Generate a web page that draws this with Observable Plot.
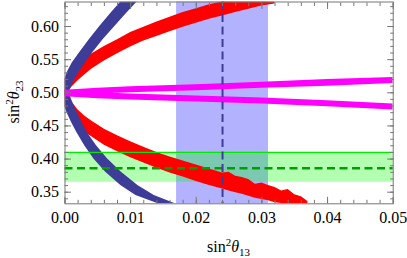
<!DOCTYPE html>
<html><head><meta charset="utf-8">
<script src="https://cdn.jsdelivr.net/npm/d3@7"></script>
<script src="https://cdn.jsdelivr.net/npm/@observablehq/plot@0.6"></script>
<style>
body{margin:0;background:#fff}
#chart svg text, #chart svg tspan { font-family: "Liberation Serif", "Times New Roman", Times, serif !important; }
#chart svg g[aria-label="x-axis tick label"] text,
#chart svg g[aria-label="y-axis tick label"] text { font-size: 16px !important; fill: #000 !important; }
</style>
</head><body><div id="chart"></div>
<script>
// tick labels
const xTicks = [0, 0.01, 0.02, 0.03, 0.04, 0.05];
const yTicks = [0.35, 0.40, 0.45, 0.50, 0.55, 0.60];

// bands (sin^2 theta13 band, sin^2 theta23 band)
const s13Band = {lo: 0.017, mid: 0.024, hi: 0.031};
const s23Band = {lo: 0.365, mid: 0.386, hi: 0.410};

// blue curve, upper branch: sin2t23 -> sin2t13 range
const blueUpY  = [0.500, 0.510, 0.520, 0.530, 0.545, 0.560, 0.580, 0.600, 0.620, 0.637];
const blueUpX1 = [0.0000, 0.0000, 0.0000, 0.0003, 0.0011, 0.0022, 0.0037, 0.0053, 0.0070, 0.0085];
const blueUpX2 = [0.0006, 0.0010, 0.0015, 0.0021, 0.0031, 0.0042, 0.0058, 0.0076, 0.0094, 0.0110];

// blue curve, lower branch
const blueLoY  = [0.500, 0.490, 0.480, 0.470, 0.455, 0.440, 0.420, 0.400, 0.380, 0.360, 0.345, 0.3325];
const blueLoX1 = [0.0000, 0.0000, 0.0000, 0.0003, 0.0010, 0.0018, 0.0030, 0.0044, 0.0062, 0.0085, 0.0108, 0.0142];
const blueLoX2 = [0.0006, 0.0010, 0.0014, 0.0019, 0.0026, 0.0034, 0.0048, 0.0065, 0.0086, 0.0111, 0.0136, 0.0168];

// red points, upper branch: sin2t13 -> sin2t23 range
const redUpX  = [0, 0.0005, 0.001, 0.002, 0.003, 0.004, 0.006, 0.008, 0.010, 0.012, 0.014, 0.016, 0.018, 0.020, 0.022, 0.024, 0.026, 0.028, 0.030, 0.032];
const redUpY1 = [0.495, 0.500, 0.508, 0.518, 0.527, 0.535, 0.548, 0.559, 0.569, 0.578, 0.585, 0.592, 0.599, 0.605, 0.611, 0.616, 0.621, 0.626, 0.631, 0.634];
const redUpY2 = [0.521, 0.530, 0.536, 0.545, 0.552, 0.558, 0.570, 0.580, 0.591, 0.599, 0.607, 0.614, 0.621, 0.627, 0.633, 0.637, 0.637, 0.637, 0.637, 0.637];

// red points, lower branch
const redLoX  = [0, 0.0005, 0.001, 0.002, 0.003, 0.004, 0.006, 0.008, 0.010, 0.012, 0.014, 0.016, 0.018, 0.020, 0.022, 0.024, 0.025, 0.026, 0.027, 0.028, 0.029, 0.030, 0.031, 0.032, 0.033, 0.034, 0.035, 0.036, 0.037];
const redLoY1 = [0.478, 0.468, 0.460, 0.449, 0.441, 0.434, 0.421, 0.411, 0.402, 0.394, 0.386, 0.379, 0.373, 0.366, 0.360, 0.355, 0.352, 0.349, 0.347, 0.344, 0.341, 0.339, 0.337, 0.334, 0.333, 0.333, 0.333, 0.333, 0.333];
const redLoY2 = [0.505, 0.497, 0.487, 0.474, 0.465, 0.458, 0.445, 0.435, 0.426, 0.418, 0.410, 0.403, 0.397, 0.391, 0.385, 0.379, 0.380, 0.374, 0.372, 0.369, 0.362, 0.364, 0.360, 0.357, 0.352, 0.354, 0.346, 0.343, 0.336];

// magenta points, upper and lower branches
const magX    = [0, 0.005, 0.01, 0.02, 0.03, 0.04, 0.05];
const magUpY1 = [0.494, 0.498, 0.500, 0.503, 0.507, 0.510, 0.514];
const magUpY2 = [0.504, 0.507, 0.509, 0.512, 0.516, 0.520, 0.523];
const magLoY1 = [0.494, 0.491, 0.489, 0.486, 0.483, 0.479, 0.474];
const magLoY2 = [0.504, 0.500, 0.498, 0.495, 0.492, 0.488, 0.483];

const byY = (ys, x1, x2) => ys.map((y, i) => ({y, x1: x1[i], x2: x2[i]}));
const byX = (xs, y1, y2) => xs.map((x, i) => ({x, y1: y1[i], y2: y2[i]}));

const blueUp = byY(blueUpY, blueUpX1, blueUpX2);
const blueLo = byY(blueLoY, blueLoX1, blueLoX2);
const redUp = byX(redUpX, redUpY1, redUpY2);
const redLo = byX(redLoX, redLoY1, redLoY2);
const magUp = byX(magX, magUpY1, magUpY2);
const magLo = byX(magX, magLoY1, magLoY2);

const xMinor = d3.range(0, 26).map(i => i * 0.002);
const yMinor = d3.range(34, 64).map(i => i / 100);
const frameColor = "#777";
const navy = "#3d3d98";
const serif = '"Liberation Serif", "Times New Roman", Times, serif';
const noText = () => "";
const tickOpts = (anchor, size) => ({
  anchor, tickSize: size, tickFormat: noText, label: null, stroke: frameColor,
  insetLeft: size, insetRight: size, insetTop: size, insetBottom: size
});

const chart = Plot.plot({
  width: 407, height: 258,
  marginLeft: 64.5, marginRight: 14.3, marginTop: 1.5, marginBottom: 54.7,
  x: {domain: [0, 0.05]},
  y: {domain: [0.3325, 0.637]},
  style: {fontFamily: serif, fontSize: "16px", background: "white"},
  marks: [
    Plot.rect([s13Band], {x1: "lo", x2: "hi", fill: "rgb(178,178,255)"}),
    Plot.rect([s23Band], {y1: "lo", y2: "hi", fill: "rgb(0,255,0)", fillOpacity: 0.3}),
    Plot.areaY(redUp, {x: "x", y1: "y1", y2: "y2", fill: "#ff0000", clip: true}),
    Plot.areaY(redLo, {x: "x", y1: "y1", y2: "y2", fill: "#ff0000", clip: true}),
    Plot.areaX(blueUp, {y: "y", x1: "x1", x2: "x2", fill: navy, clip: true}),
    Plot.areaX(blueLo, {y: "y", x1: "x1", x2: "x2", fill: navy, clip: true}),
    Plot.areaY(magUp, {x: "x", y1: "y1", y2: "y2", fill: "#ff00ff", clip: true}),
    Plot.areaY(magLo, {x: "x", y1: "y1", y2: "y2", fill: "#ff00ff", clip: true}),
    Plot.ruleY([s23Band.hi], {stroke: "rgb(0,235,0)", strokeWidth: 1.2}),
    Plot.ruleY([s23Band.mid], {stroke: "#00a000", strokeWidth: 2.5, strokeDasharray: "8,4.5"}),
    Plot.ruleX([s13Band.mid], {stroke: navy, strokeWidth: 2, strokeDasharray: "8,4.5"}),
    Plot.frame({stroke: frameColor}),
    // inward ticks on all four sides
    Plot.axisX(xMinor, tickOpts("bottom", 3.5)),
    Plot.axisX(xTicks, tickOpts("bottom", 6.5)),
    Plot.axisX(xMinor, tickOpts("top", 3.5)),
    Plot.axisX(xTicks, tickOpts("top", 6.5)),
    Plot.axisY(yMinor, tickOpts("left", 3.5)),
    Plot.axisY(yTicks, tickOpts("left", 6.5)),
    Plot.axisY(yMinor, tickOpts("right", 3.5)),
    Plot.axisY(yTicks, tickOpts("right", 6.5)),
    // tick labels
    Plot.axisX(xTicks, {anchor: "bottom", tickSize: 0, tickPadding: 8, tickFormat: d => d.toFixed(2), label: null,
      fill: "#000", fontFamily: serif, fontSize: 16}),
    Plot.axisY(yTicks, {anchor: "left", tickSize: 0, tickPadding: 6, tickFormat: d => d.toFixed(2), label: null,
      fill: "#000", fontFamily: serif, fontSize: 16})
  ]
});
document.getElementById("chart").appendChild(chart);

const svg = d3.select(chart);
const xl = svg.append("text").attr("x", 228.5).attr("y", 252).attr("text-anchor", "middle")
  .attr("font-family", serif).attr("font-size", 16).attr("fill", "#000");
xl.append("tspan").text("sin");
xl.append("tspan").attr("dy", -6).attr("font-size", 11).text("2");
xl.append("tspan").attr("dy", 6).attr("font-style", "italic").text("θ");
xl.append("tspan").attr("dy", 4).attr("font-size", 11).text("13");

const yl = svg.append("text").attr("transform", "translate(19,102) rotate(-90)").attr("text-anchor", "middle")
  .attr("font-family", serif).attr("font-size", 16).attr("fill", "#000");
yl.append("tspan").text("sin");
yl.append("tspan").attr("dy", -6).attr("font-size", 11).text("2");
yl.append("tspan").attr("dy", 6).attr("font-style", "italic").text("θ");
yl.append("tspan").attr("dy", 4).attr("font-size", 11).text("23");
</script>
</body></html>
